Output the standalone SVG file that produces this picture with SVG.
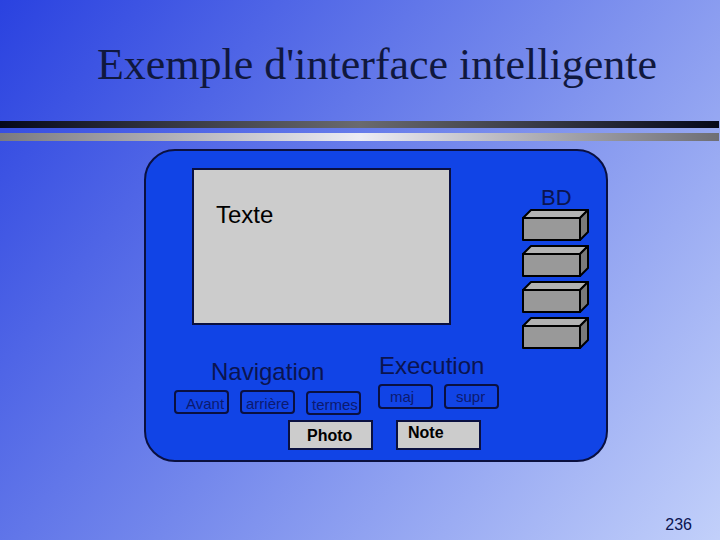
<svg xmlns="http://www.w3.org/2000/svg" width="720" height="540" viewBox="0 0 720 540">
<defs>
<linearGradient id="bg" x1="0" y1="0" x2="720" y2="540" gradientUnits="userSpaceOnUse">
<stop offset="0" stop-color="#2A42E0"/>
<stop offset="0.5" stop-color="#7488EC"/>
<stop offset="1" stop-color="#C2D0FA"/>
</linearGradient>
<linearGradient id="darkbar" x1="0" y1="0" x2="1" y2="0">
<stop offset="0" stop-color="#05081A"/>
<stop offset="0.5" stop-color="#6A6A6E"/>
<stop offset="1" stop-color="#05081A"/>
</linearGradient>
<linearGradient id="lightbar" x1="0" y1="0" x2="1" y2="0">
<stop offset="0" stop-color="#7A7A80"/>
<stop offset="0.5" stop-color="#ECECF4"/>
<stop offset="1" stop-color="#6E6E74"/>
</linearGradient>
<style>
.sans{font-family:"Liberation Sans",Arial,sans-serif;}
.lbl{font-size:24px;fill:#0B1450;}
.btn{fill:#1144E6;stroke:#0A1040;stroke-width:2;}
.btxt{font-size:15px;fill:#0C1A70;}
.gray{fill:#CCCCCC;stroke:#0A1040;stroke-width:2;}
.bold{font-size:16px;font-weight:bold;fill:#000;}
.front{fill:#999999;stroke:#000;stroke-width:2;stroke-linejoin:round;}
.top{fill:#B2B2B2;stroke:#000;stroke-width:2;stroke-linejoin:round;}
.side{fill:#7A7A7A;stroke:#000;stroke-width:2;stroke-linejoin:round;}
</style>
<g id="dbshape">
<polygon class="top" points="0,8 8,0 65,0 57,8"/>
<polygon class="side" points="57,8 65,0 65,22 57,30"/>
<rect class="front" x="0" y="8" width="57" height="22"/>
</g>
</defs>
<rect width="720" height="540" fill="url(#bg)"/>
<text x="377" y="79" text-anchor="middle" font-family="'Liberation Serif','Times New Roman',serif" font-size="44" fill="#10183E">Exemple d'interface intelligente</text>
<rect x="0" y="121" width="719" height="7" fill="url(#darkbar)"/>
<rect x="0" y="133" width="719" height="8" fill="url(#lightbar)"/>

<g id="panel">
<rect x="145" y="150" width="462" height="311" rx="30" ry="30" fill="#1144E6" stroke="#0A1040" stroke-width="2"/>
</g>
<g id="texte">
<rect class="gray" x="193" y="169" width="257" height="155"/>
<text class="sans lbl" x="216" y="223" style="fill:#000">Texte</text>
</g>
<g id="bd">
<text class="sans" x="541" y="205" font-size="22" fill="#0B1450">BD</text>
<use href="#dbshape" x="523" y="210"/>
<use href="#dbshape" x="523" y="246"/>
<use href="#dbshape" x="523" y="282"/>
<use href="#dbshape" x="523" y="318"/>
</g>
<g id="navigation">
<text class="sans lbl" x="211" y="380">Navigation</text>
</g>
<g id="avant">
<rect class="btn" x="175" y="391" width="53" height="22" rx="3"/>
<text class="sans btxt" x="186" y="409" font-size="14">Avant</text>
</g>
<g id="arriere">
<rect class="btn" x="241" y="391" width="53" height="22" rx="3"/>
<text class="sans btxt" x="246" y="409">arrière</text>
</g>
<g id="termes">
<rect class="btn" x="307" y="392" width="53" height="22" rx="3"/>
<text class="sans btxt" x="312" y="410">termes</text>
</g>
<g id="execution">
<text class="sans lbl" x="379" y="374">Execution</text>
</g>
<g id="maj">
<rect class="btn" x="379" y="385" width="53" height="23" rx="3"/>
<text class="sans btxt" x="390" y="402">maj</text>
</g>
<g id="supr">
<rect class="btn" x="445" y="385" width="53" height="23" rx="3"/>
<text class="sans btxt" x="456" y="402">supr</text>
</g>
<g id="photo">
<rect class="gray" x="289" y="421" width="83" height="28"/>
<text class="sans bold" x="307" y="441">Photo</text>
</g>
<g id="note">
<rect class="gray" x="397" y="421" width="83" height="28"/>
<text class="sans bold" x="408" y="438">Note</text>
</g>
<g id="connectors"/>
<text class="sans" x="692" y="530" text-anchor="end" font-size="16" fill="#0B1450">236</text>
</svg>
